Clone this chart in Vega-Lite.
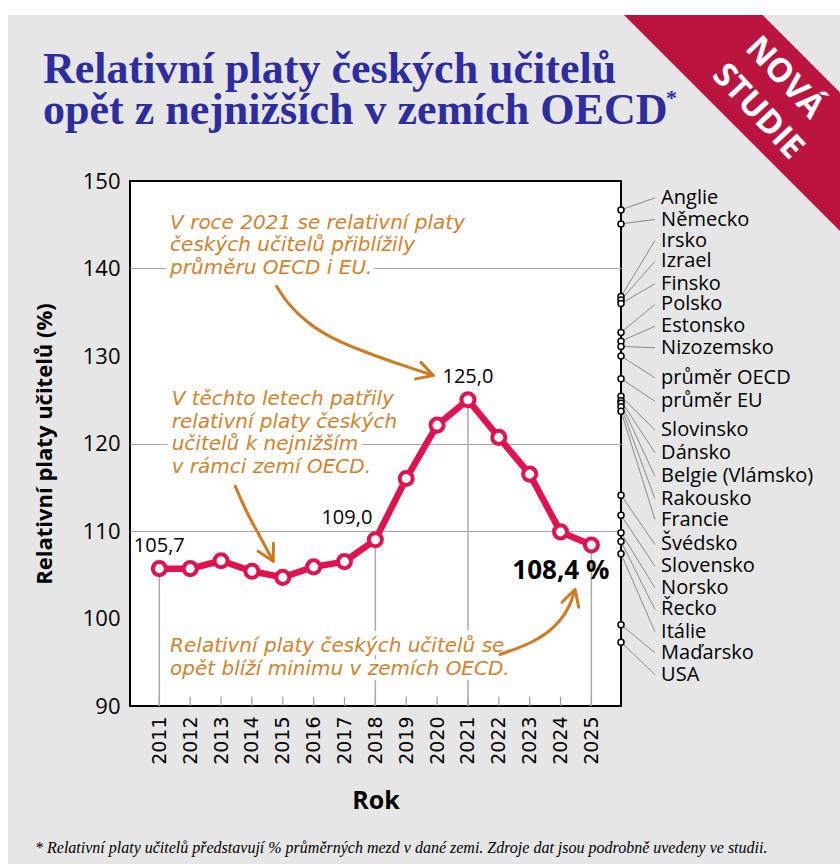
{
  "$schema": "https://vega.github.io/schema/vega-lite/v6.json",
  "width": 491,
  "height": 525,
  "autosize": {"type": "none"},
  "padding": {"left": 130, "top": 181, "right": 219, "bottom": 158},
  "background": "#e6e6e6",
  "config": {
    "view": {"fill": "white", "stroke": "black", "strokeWidth": 2},
    "font": "Open Sans"
  },
  "datasets": {
    "series": [
      {"year": 2011, "value": 105.7, "label": "105,7"},
      {"year": 2012, "value": 105.7, "label": ""},
      {"year": 2013, "value": 106.6, "label": ""},
      {"year": 2014, "value": 105.4, "label": ""},
      {"year": 2015, "value": 104.7, "label": ""},
      {"year": 2016, "value": 105.9, "label": ""},
      {"year": 2017, "value": 106.5, "label": ""},
      {"year": 2018, "value": 109.0, "label": "109,0"},
      {"year": 2019, "value": 116.0, "label": ""},
      {"year": 2020, "value": 122.1, "label": ""},
      {"year": 2021, "value": 125.0, "label": "125,0"},
      {"year": 2022, "value": 120.7, "label": ""},
      {"year": 2023, "value": 116.5, "label": ""},
      {"year": 2024, "value": 109.9, "label": ""},
      {"year": 2025, "value": 108.4, "label": "108,4 %"}
    ],
    "countries": [
      {"country": "Anglie", "value": 146.7, "labelAt": 148.08},
      {"country": "Německo", "value": 145.1, "labelAt": 145.6},
      {"country": "Irsko", "value": 136.8, "labelAt": 143.2},
      {"country": "Izrael", "value": 136.4, "labelAt": 140.83},
      {"country": "Finsko", "value": 136.0, "labelAt": 138.25},
      {"country": "Polsko", "value": 132.7, "labelAt": 135.89},
      {"country": "Estonsko", "value": 131.7, "labelAt": 133.4},
      {"country": "Nizozemsko", "value": 131.1, "labelAt": 130.94},
      {"country": "průměr OECD", "value": 130.0, "labelAt": 127.5},
      {"country": "průměr EU", "value": 127.4, "labelAt": 124.83},
      {"country": "Slovinsko", "value": 125.4, "labelAt": 121.54},
      {"country": "Dánsko", "value": 124.9, "labelAt": 118.94},
      {"country": "Belgie (Vlámsko)", "value": 124.6, "labelAt": 116.26},
      {"country": "Rakousko", "value": 124.2, "labelAt": 113.68},
      {"country": "Francie", "value": 123.7, "labelAt": 111.31},
      {"country": "Švédsko", "value": 114.1, "labelAt": 108.46},
      {"country": "Slovensko", "value": 111.8, "labelAt": 105.98},
      {"country": "Norsko", "value": 109.8, "labelAt": 103.51},
      {"country": "Řecko", "value": 108.8, "labelAt": 101.03},
      {"country": "Itálie", "value": 107.4, "labelAt": 98.48},
      {"country": "Maďarsko", "value": 99.3, "labelAt": 96.08},
      {"country": "USA", "value": 97.3, "labelAt": 93.6}
    ],
    "notes": [
      {"text": "V roce 2021 se relativní platy\nčeských učitelů přiblížily\nprůměru OECD i EU.", "x": 2011.35, "y": 145.22},
      {"text": "V těchto letech patřily\nrelativní platy českých\nučitelů k nejnižším\nv rámci zemí OECD.", "x": 2011.4, "y": 125.03},
      {"text": "Relativní platy českých učitelů se\nopět blíží minimu v zemích OECD.", "x": 2011.35, "y": 96.83}
    ],
    "arrows": [
      {"arrow": 1, "order": 1, "x": 2014.80, "y": 137.98, "end": false},
      {"arrow": 1, "order": 2, "x": 2015.13, "y": 136.08, "end": false},
      {"arrow": 1, "order": 3, "x": 2015.78, "y": 133.79, "end": false},
      {"arrow": 1, "order": 4, "x": 2016.64, "y": 131.89, "end": false},
      {"arrow": 1, "order": 5, "x": 2017.72, "y": 130.37, "end": false},
      {"arrow": 1, "order": 6, "x": 2018.80, "y": 129.03, "end": false},
      {"arrow": 1, "order": 7, "x": 2019.88, "y": 127.77, "end": true},
      {"arrow": 2, "order": 1, "x": 2013.46, "y": 115.12, "end": false},
      {"arrow": 2, "order": 2, "x": 2013.83, "y": 112.08, "end": false},
      {"arrow": 2, "order": 3, "x": 2014.26, "y": 109.41, "end": false},
      {"arrow": 2, "order": 4, "x": 2014.69, "y": 106.55, "end": true},
      {"arrow": 3, "order": 1, "x": 2022.04, "y": 95.89, "end": false},
      {"arrow": 3, "order": 2, "x": 2023.12, "y": 97.22, "end": false},
      {"arrow": 3, "order": 3, "x": 2023.88, "y": 99.12, "end": false},
      {"arrow": 3, "order": 4, "x": 2024.31, "y": 101.41, "end": false},
      {"arrow": 3, "order": 5, "x": 2024.47, "y": 103.31, "end": true}
    ]
  },
  "layer": [
    {
      "data": {"name": "series"},
      "transform": [{"filter": "datum.year == 2011"}],
      "mark": {"type": "point", "shape": "M0.03,-1.66L1.416,-1.66L2.19,-0.886L2.19,0.5Z", "size": 40000, "filled": true, "fill": "#bb143e", "strokeWidth": 0, "opacity": 1},
      "encoding": {
        "x": {"datum": 2025.96, "type": "quantitative", "scale": {"domain": [2010.05, 2025.96], "nice": false, "zero": false},
          "axis": {"values": [2011, 2012, 2013, 2014, 2015, 2016, 2017, 2018, 2019, 2020, 2021, 2022, 2023, 2024, 2025], "tickCount": 30, "format": "d", "labelAngle": -90, "labelOverlap": false, "labelFont": "DejaVu Sans", "labelFontSize": 19, "labelColor": "black", "labelPadding": 10, "ticks": false, "domain": false, "grid": false, "title": "Rok", "titleFont": "Open Sans", "titleFontSize": 25, "titleFontWeight": "bold", "titleColor": "black", "titlePadding": 24}},
        "y": {"datum": 150, "type": "quantitative", "scale": {"domain": [90, 150], "nice": false, "zero": false},
          "axis": {"values": [90, 100, 110, 120, 130, 140, 150], "tickCount": 30, "labelFont": "Open Sans", "labelFontSize": 22, "labelColor": "black", "labelPadding": 10, "ticks": false, "domain": false, "grid": true, "gridColor": {"condition": {"test": "datum.value == 100 || datum.value == 130 || datum.value == 90 || datum.value == 150", "value": "transparent"}, "value": "#a6a6a6"}, "gridWidth": 1, "title": "Relativní platy učitelů (%)", "titleFont": "Open Sans", "titleFontSize": 22, "titleFontWeight": "bold", "titleColor": "black", "titlePadding": 26}}
      }
    },
    {
      "data": {"name": "series"},
      "transform": [{"filter": "datum.year == 2011"}],
      "mark": {"type": "text", "color": "white", "font": "Open Sans", "fontWeight": "bold", "fontSize": 33, "angle": 47, "align": "center", "baseline": "middle", "dx": 36, "dy": -190},
      "encoding": {
        "x": {"datum": 2025.96, "type": "quantitative"},
        "y": {"datum": 150, "type": "quantitative"},
        "text": {"value": "NOVÁ"}
      }
    },
    {
      "data": {"name": "series"},
      "transform": [{"filter": "datum.year == 2011"}],
      "mark": {"type": "text", "color": "white", "font": "Open Sans", "fontWeight": "bold", "fontSize": 33, "angle": 47, "align": "center", "baseline": "middle", "dx": 42.7, "dy": -147.4},
      "encoding": {
        "x": {"datum": 2025.96, "type": "quantitative"},
        "y": {"datum": 150, "type": "quantitative"},
        "text": {"value": "STUDIE"}
      }
    },
    {
      "data": {"name": "series"},
      "transform": [{"filter": "datum.year == 2011"}],
      "mark": {"type": "point", "shape": "M-1.3,-1.81L7.1,-1.81L7.1,-1.66L-1.22,-1.66L-1.22,6.83L-1.3,6.83Z", "size": 40000, "filled": true, "fill": "white", "strokeWidth": 0, "opacity": 1},
      "encoding": {
        "x": {"datum": 2010.05, "type": "quantitative"},
        "y": {"datum": 150, "type": "quantitative"}
      }
    },
    {
      "data": {"name": "series"},
      "transform": [{"filter": "datum.year == 2011"}],
      "mark": {"type": "text", "font": "Liberation Serif", "fontWeight": "bold", "fontSize": 44, "color": "#2d2d9f", "align": "left", "baseline": "alphabetic", "lineBreak": "\n", "lineHeight": 41, "dx": -87, "dy": -98},
      "encoding": {
        "x": {"datum": 2010.05, "type": "quantitative"},
        "y": {"datum": 150, "type": "quantitative"},
        "text": {"value": "Relativní platy českých učitelů\nopět z nejnižších v zemích OECD"}
      }
    },
    {
      "data": {"name": "series"},
      "transform": [{"filter": "datum.year == 2011"}],
      "mark": {"type": "text", "font": "Liberation Serif", "fontWeight": "bold", "fontSize": 22, "color": "#2d2d9f", "align": "left", "baseline": "middle", "dx": 536, "dy": -83},
      "encoding": {
        "x": {"datum": 2010.05, "type": "quantitative"},
        "y": {"datum": 150, "type": "quantitative"},
        "text": {"value": "*"}
      }
    },
    {
      "data": {"name": "series"},
      "transform": [{"filter": "datum.year == 2011"}],
      "mark": {"type": "text", "font": "Liberation Serif", "fontStyle": "italic", "fontSize": 16, "color": "black", "align": "left", "baseline": "middle", "dx": -95, "dy": 142},
      "encoding": {
        "x": {"datum": 2010.05, "type": "quantitative"},
        "y": {"datum": 90, "type": "quantitative"},
        "text": {"value": "* Relativní platy učitelů představují % průměrných mezd v dané zemi. Zdroje dat jsou podrobně uvedeny ve studii."}
      }
    },
    {
      "mark": {"type": "rule", "color": "#8c8c8c", "strokeWidth": 4.5, "strokeDash": [15, 8]},
      "encoding": {"y": {"datum": 130, "type": "quantitative"}}
    },
    {
      "mark": {"type": "rule", "color": "black", "strokeWidth": 2},
      "encoding": {"y": {"datum": 100, "type": "quantitative"}}
    },
    {
      "data": {"name": "series"},
      "mark": {"type": "rule", "color": "#9a9a9a", "strokeWidth": 1.2},
      "encoding": {
        "x": {"field": "year", "type": "quantitative"},
        "y": {"datum": 90, "type": "quantitative"},
        "y2": {"datum": 91.05}
      }
    },
    {
      "data": {"name": "series"},
      "transform": [{"filter": "datum.label != ''"}],
      "mark": {"type": "rule", "color": "#aaaaaa", "strokeWidth": 1.5},
      "encoding": {
        "x": {"field": "year", "type": "quantitative"},
        "y": {"field": "value", "type": "quantitative"},
        "y2": {"datum": 90}
      }
    },
    {
      "data": {"name": "notes"},
      "mark": {"type": "text", "font": "DejaVu Sans", "fontStyle": "italic", "fontSize": 20, "lineBreak": "\n", "lineHeight": 22.5, "align": "left", "baseline": "middle", "fill": "white", "stroke": "white", "strokeWidth": 10, "strokeJoin": "round"},
      "encoding": {
        "x": {"field": "x", "type": "quantitative"},
        "y": {"field": "y", "type": "quantitative"},
        "text": {"field": "text"}
      }
    },
    {
      "data": {"name": "notes"},
      "mark": {"type": "text", "font": "DejaVu Sans", "fontStyle": "italic", "fontSize": 20, "lineBreak": "\n", "lineHeight": 22.5, "align": "left", "baseline": "middle", "color": "#d5822a"},
      "encoding": {
        "x": {"field": "x", "type": "quantitative"},
        "y": {"field": "y", "type": "quantitative"},
        "text": {"field": "text"}
      }
    },
    {
      "mark": {"type": "text", "font": "Open Sans", "fontWeight": "bold", "fontSize": 23, "align": "center", "baseline": "middle", "fill": "white", "stroke": "white", "strokeWidth": 14},
      "encoding": {
        "x": {"datum": 2014.75, "type": "quantitative"},
        "y": {"datum": 130, "type": "quantitative"},
        "text": {"value": "130 %"}
      }
    },
    {
      "mark": {"type": "text", "font": "Open Sans", "fontWeight": "bold", "fontSize": 23, "align": "center", "baseline": "middle", "color": "#8c8c8c"},
      "encoding": {
        "x": {"datum": 2014.75, "type": "quantitative"},
        "y": {"datum": 130, "type": "quantitative"},
        "text": {"value": "130 %"}
      }
    },
    {
      "data": {"name": "arrows"},
      "mark": {"type": "line", "color": "#d07a22", "strokeWidth": 3, "interpolate": "basis", "strokeCap": "round"},
      "encoding": {
        "x": {"field": "x", "type": "quantitative"},
        "y": {"field": "y", "type": "quantitative"},
        "detail": {"field": "arrow"},
        "order": {"field": "order"}
      }
    },
    {
      "data": {"name": "arrows"},
      "transform": [{"filter": "datum.end"}],
      "mark": {"type": "point", "shape": "M-1,-0.55L0,0L-1,0.55", "filled": false, "stroke": "#d07a22", "strokeWidth": 3, "strokeCap": "round", "strokeJoin": "round", "size": 1000, "opacity": 1},
      "encoding": {
        "x": {"field": "x", "type": "quantitative"},
        "y": {"field": "y", "type": "quantitative"},
        "angle": {"condition": [{"test": "datum.arrow == 1", "value": 18}, {"test": "datum.arrow == 2", "value": 62}], "value": -73}
      }
    },
    {
      "data": {"name": "series"},
      "mark": {"type": "line", "color": "#e2124f", "strokeWidth": 6.5},
      "encoding": {
        "x": {"field": "year", "type": "quantitative"},
        "y": {"field": "value", "type": "quantitative"}
      }
    },
    {
      "data": {"name": "series"},
      "mark": {"type": "point", "filled": true, "fill": "white", "stroke": "#e2124f", "strokeWidth": 4, "size": 170, "opacity": 1},
      "encoding": {
        "x": {"field": "year", "type": "quantitative"},
        "y": {"field": "value", "type": "quantitative"}
      }
    },
    {
      "data": {"name": "series"},
      "transform": [{"filter": "datum.year == 2011 || datum.year == 2021"}],
      "mark": {"type": "text", "font": "Open Sans", "fontSize": 20, "color": "black", "align": "center", "baseline": "middle", "dy": -23},
      "encoding": {
        "x": {"field": "year", "type": "quantitative"},
        "y": {"field": "value", "type": "quantitative"},
        "text": {"field": "label"}
      }
    },
    {
      "data": {"name": "series"},
      "transform": [{"filter": "datum.year == 2018"}],
      "mark": {"type": "text", "font": "Open Sans", "fontSize": 20, "color": "black", "align": "right", "baseline": "middle", "dx": -3, "dy": -22},
      "encoding": {
        "x": {"field": "year", "type": "quantitative"},
        "y": {"field": "value", "type": "quantitative"},
        "text": {"field": "label"}
      }
    },
    {
      "data": {"name": "series"},
      "transform": [{"filter": "datum.year == 2025"}],
      "mark": {"type": "text", "font": "Open Sans", "fontWeight": "bold", "fontSize": 26, "color": "black", "align": "right", "baseline": "middle", "dx": 18, "dy": 26},
      "encoding": {
        "x": {"field": "year", "type": "quantitative"},
        "y": {"field": "value", "type": "quantitative"},
        "text": {"field": "label"}
      }
    },
    {
      "data": {"name": "countries"},
      "mark": {"type": "rule", "color": "#8a8a8a", "strokeWidth": 1},
      "encoding": {
        "x": {"datum": 2025.96, "type": "quantitative"},
        "x2": {"datum": 2027.06},
        "y": {"field": "value", "type": "quantitative"},
        "y2": {"field": "labelAt"}
      }
    },
    {
      "data": {"name": "countries"},
      "mark": {"type": "point", "filled": true, "fill": "white", "stroke": "black", "strokeWidth": 1.5, "size": 36, "opacity": 1},
      "encoding": {
        "x": {"datum": 2025.96, "type": "quantitative"},
        "y": {"field": "value", "type": "quantitative"}
      }
    },
    {
      "data": {"name": "countries"},
      "mark": {"type": "text", "font": "Open Sans", "fontSize": 20, "color": "black", "align": "left", "baseline": "middle"},
      "encoding": {
        "x": {"datum": 2027.26, "type": "quantitative"},
        "y": {"field": "labelAt", "type": "quantitative"},
        "text": {"field": "country"},
        "fontWeight": {"condition": {"test": "indexOf(datum.country, 'průměr') == 0", "value": "bold"}, "value": "normal"}
      }
    }
  ]
}
